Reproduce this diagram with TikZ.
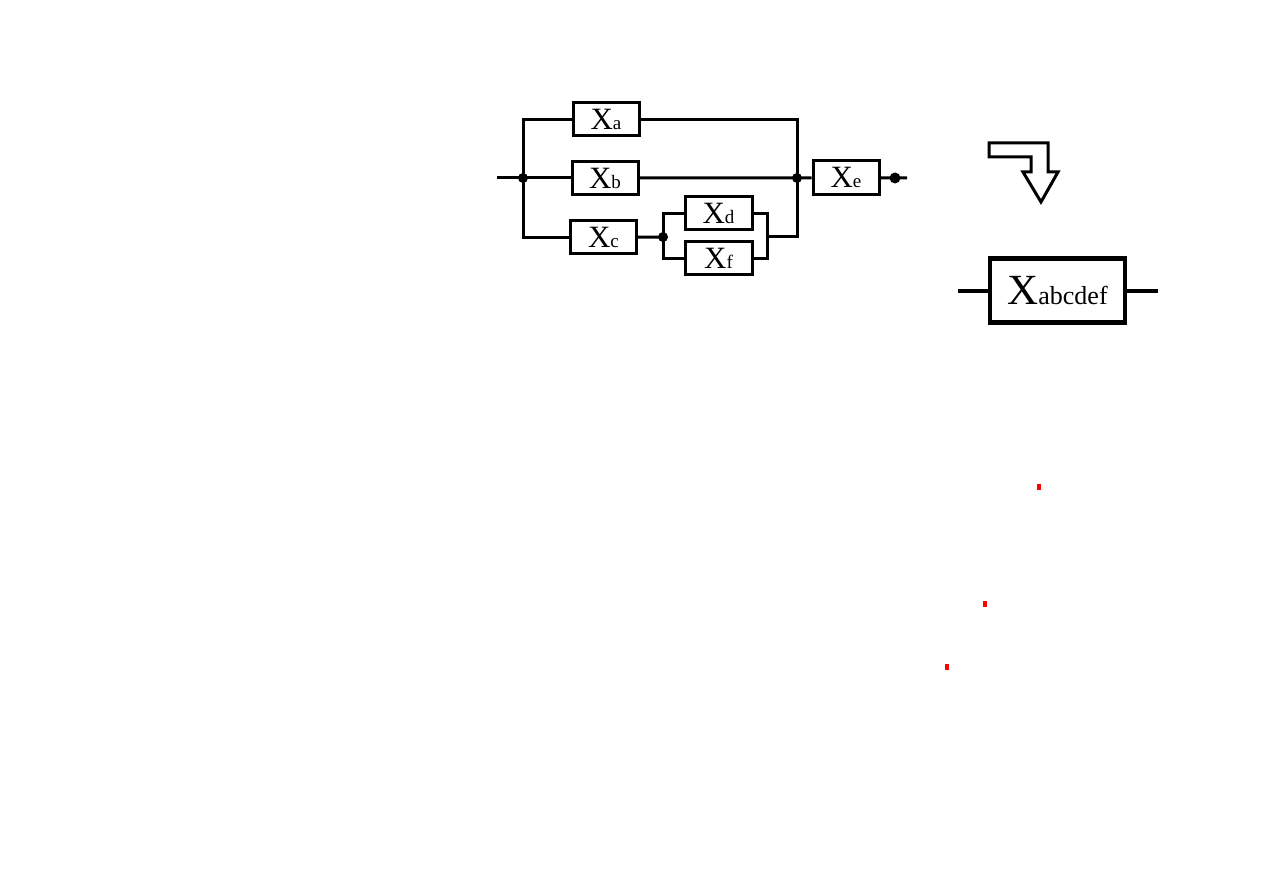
\documentclass[tikz,border=0pt]{standalone}
\usepackage{fontspec}
\setmainfont{Liberation Serif}
\begin{document}
\begin{tikzpicture}[x=1pt,y=-1pt,
  blk/.style={draw,line width=3pt,minimum width=66pt,minimum height=33pt,inner sep=0pt,fill=white},
  wire/.style={line width=3pt},
  dot/.style={fill=black}]
\useasboundingbox (0,0) rectangle (1263,893);
\newcommand{\lbl}[1]{{\fontsize{31}{31}\selectfont X}{\fontsize{19}{19}\selectfont #1}}
% junctions
\coordinate (J1) at (523,178);
\coordinate (J2) at (797,178);
\coordinate (J3) at (663,237);
\coordinate (J4) at (895,178);
\coordinate (in) at (497,178);
\coordinate (out) at (907,178);
\coordinate (k1) at (767,237);
% blocks
\node[blk] (Xa) at (606,119.5) {\lbl{a}};
\node[blk] (Xb) at (605,178) {\lbl{b}};
\node[blk] (Xc) at (603.5,237.5) {\lbl{c}};
\node[blk,minimum width=67pt] (Xd) at (718.5,213.5) {\lbl{d}};
\node[blk,minimum width=67pt] (Xf) at (718.5,258.5) {\lbl{f}};
\node[blk,minimum width=66pt,minimum height=34pt] (Xe) at (846,177.5) {\lbl{e}};
% wires
\draw[wire] (in) -- (J1) -- (Xb);
\draw[wire] (Xb) -- (J2) -- (Xe);
\draw[wire] (Xe) -- (out);
\draw[wire] (J1) |- (Xa);
\draw[wire] (Xa) -| (J2);
\draw[wire] (J1) |- (Xc);
\draw[wire] (Xc) -- (J3);
\draw[wire] (J3) |- (Xd);
\draw[wire] (J3) |- (Xf);
\draw[wire] (Xd) -| (k1);
\draw[wire] (Xf) -| (k1);
\draw[wire] (k1) -| (J2);
% dots
\fill[dot] (J1) circle (5);
\fill[dot] (J2) circle (5);
\fill[dot] (J3) circle (5);
\fill[dot] (J4) circle (5.5);
% arrow
\draw[line width=3pt,line join=miter] (989,143) -- (1048,143) -- (1048,172) -- (1058,172) -- (1041,202) -- (1023,172) -- (1031,172) -- (1031,157) -- (989,157) -- cycle;
% result block
\coordinate (rin) at (958,290.5);
\coordinate (rout) at (1158,290.5);
\node[draw,line width=4.5pt,minimum width=135pt,minimum height=64pt,inner sep=0pt] (Xr) at (1057.5,290.5)
  {{\fontsize{43}{43}\selectfont X}{\fontsize{26}{26}\selectfont abcdef}};
\draw[line width=4pt] (rin) -- (Xr);
\draw[line width=4pt] (Xr) -- (rout);
% red marks
\fill[red] (1037,484) rectangle (1041,490);
\fill[red] (983,601) rectangle (987,607);
\fill[red] (945,664) rectangle (949,670);
\end{tikzpicture}
\end{document}
